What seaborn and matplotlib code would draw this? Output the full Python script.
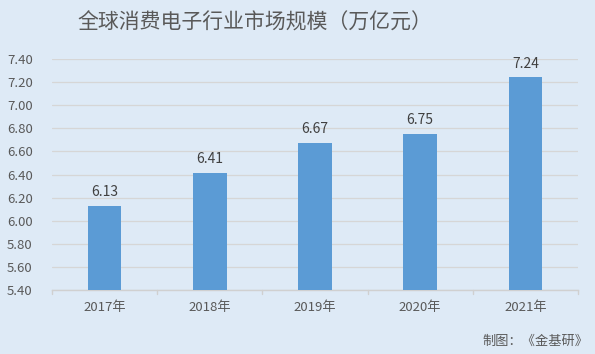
import matplotlib
matplotlib.use('Agg')
import matplotlib.pyplot as plt
import seaborn as sns
import pandas as pd

years = ['2017年', '2018年', '2019年', '2020年', '2021年']
values = [6.13, 6.41, 6.67, 6.75, 7.24]
yticks = [5.40, 5.60, 5.80, 6.00, 6.20, 6.40, 6.60, 6.80, 7.00, 7.20, 7.40]

bg = '#DEEAF6'
sns.set_theme(style='white')
plt.rcParams['font.family'] = ['Noto Sans CJK SC', 'DejaVu Sans']

df = pd.DataFrame({'year': years, 'value': values})

fig = plt.figure(figsize=(5.95, 3.54), dpi=100, facecolor=bg)
ax = fig.add_axes([0.0874, 0.1808, 0.884, 0.6525])
ax.set_facecolor(bg)

sns.barplot(data=df, x='year', y='value', color='#5B9BD5', saturation=1,
            width=0.32, linewidth=0, edgecolor='none', ax=ax, zorder=3)

ax.set_ylim(5.40, 7.40)
ax.set_xlim(-0.5, len(years) - 0.5)
ax.set_yticks(yticks)
ax.set_yticklabels(['%.2f' % t for t in yticks], fontsize=9.5, color='#595959')
ax.tick_params(axis='y', length=0, pad=14)
ax.tick_params(axis='x', length=0, pad=8, labelsize=9.5, labelcolor='#595959')
ax.grid(axis='y', color='#D6D6D6', linewidth=0.9, zorder=0)
ax.set_xlabel('')
ax.set_ylabel('')
for s in ['top', 'right', 'left']:
    ax.spines[s].set_visible(False)
ax.spines['bottom'].set_color('#D0D0D0')
ax.spines['bottom'].set_linewidth(1)

# category boundary ticks
for i in range(len(years) + 1):
    ax.plot([i - 0.5, i - 0.5], [5.40, 5.365], color='#D0D0D0', lw=1,
            clip_on=False, transform=ax.transData)

for i, v in enumerate(values):
    ax.text(i, v + 0.06, '%.2f' % v, ha='center', va='bottom',
            fontsize=10, color='#404040')

fig.text(255 / 595, 1 - 23 / 354, '全球消费电子行业市场规模（万亿元）', ha='center',
         va='center', fontsize=15, color='#595959')
fig.text(588 / 595, 1 - 341 / 354, '制图：《金基研》', ha='right', va='center',
         fontsize=9.5, color='#595959')

fig.savefig('out.png', dpi=100, facecolor=bg)
